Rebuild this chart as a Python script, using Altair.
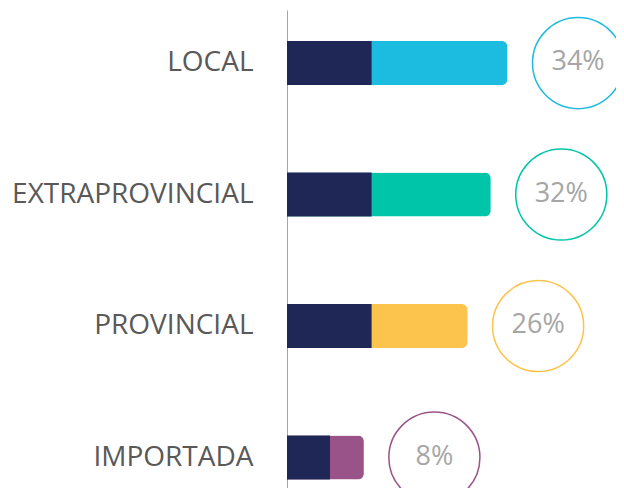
import altair as alt
import pandas as pd

categories = ["LOCAL", "EXTRAPROVINCIAL", "PROVINCIAL", "IMPORTADA"]
percent_labels = ["34%", "32%", "26%", "8%"]
navy_length = [25.2, 25.2, 25.2, 12.8]
total_length = [65.7, 60.7, 53.8, 22.9]
colors = ["#1cbbe0", "#00c5a9", "#fcc44d", "#9a5388"]

df = pd.DataFrame({
    "cat": categories,
    "pct": percent_labels,
    "navy": navy_length,
    "total": total_length,
    "color": colors,
})

y_enc = alt.Y(
    "cat:N",
    sort=categories,
    scale=alt.Scale(paddingInner=0.665, paddingOuter=0.15, align=0.787),
    axis=alt.Axis(
        title=None,
        ticks=False,
        domainColor="#a6a6a6",
        domainWidth=1,
        labelFont="Open Sans",
        labelFontSize=28,
        labelColor="#595959",
        labelPadding=34,
        labelLimit=400,
    ),
)
x_scale = alt.Scale(domain=[0, 98])

base = alt.Chart(df)

colored = base.mark_bar(cornerRadiusEnd=6).encode(
    y=y_enc,
    x=alt.X("total:Q", scale=x_scale, axis=None),
    color=alt.Color("color:N", scale=None),
)
navy = base.mark_bar(color="#1e2756").encode(
    y=y_enc,
    x=alt.X("navy:Q", scale=x_scale, axis=None),
)
circles = base.transform_calculate(cx="datum.total + 21").mark_point(
    shape="circle", size=8300, filled=False, strokeWidth=1.5, opacity=1
).encode(
    y=y_enc,
    x=alt.X("cx:Q", scale=x_scale, axis=None),
    stroke=alt.Stroke("color:N", scale=None),
)
labels = base.transform_calculate(cx="datum.total + 21").mark_text(
    font="Open Sans", fontSize=27, color="#a6a6a6", baseline="middle", align="center", dy=-1
).encode(
    y=y_enc,
    x=alt.X("cx:Q", scale=x_scale, axis=None),
    text="pct:N",
)

chart = alt.layer(colored, navy, circles, labels).properties(
    width=329,
    height=478,
    autosize=alt.AutoSizeParams(type="none"),
    padding={"left": 279, "top": 2, "right": 0, "bottom": 0},
).configure_view(stroke=None).configure_axis(grid=False)

chart.save("out.html", embed_options={"renderer": "svg", "actions": False})
